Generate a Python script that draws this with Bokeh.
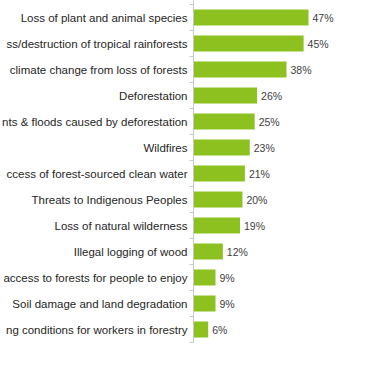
from bokeh.plotting import figure
from bokeh.models import Range1d, ColumnDataSource
from bokeh.core.properties import value
from bokeh.embed import file_html
from bokeh.resources import INLINE

categories = [
    "Loss of plant and animal species",
    "ss/destruction of tropical rainforests",
    "climate change from loss of forests",
    "Deforestation",
    "nts & floods caused by deforestation",
    "Wildfires",
    "ccess of forest-sourced clean water",
    "Threats to Indigenous Peoples",
    "Loss of natural wilderness",
    "Illegal logging of wood",
    "access to forests for people to enjoy",
    "Soil damage and land degradation",
    "ng conditions for workers in forestry",
]
values = [47, 45, 38, 26, 25, 23, 21, 20, 19, 12, 9, 9, 6]
value_labels = [f"{v}%" for v in values]

W, H = 350, 350
AXIS_PX = 193.0
PX_PER_UNIT = 2.447
ROW_PX = 26.0
FIRST_ROW_PX = 17.0

ypos = [-i for i in range(len(categories))]
src = ColumnDataSource(dict(y=ypos, v=values, cat=categories, lab=value_labels))

p = figure(width=W, height=H, output_backend="svg", toolbar_location=None,
           x_range=Range1d(-AXIS_PX / PX_PER_UNIT, (W - AXIS_PX) / PX_PER_UNIT),
           y_range=Range1d(-(H - FIRST_ROW_PX) / ROW_PX, FIRST_ROW_PX / ROW_PX),
           min_border=0)
p.axis.visible = False
p.grid.visible = False
p.outline_line_color = None
p.background_fill_color = "white"
p.border_fill_color = "white"

p.hbar(y="y", left=0, right="v", height=16 / ROW_PX, source=src,
       fill_color="#8cc11f", line_color=None)

# axis line and boundary ticks
n = len(categories)
bounds = [0.5 - k for k in range(n + 1)]
p.segment(x0=[0], x1=[0], y0=[bounds[0] + 1], y1=[bounds[-1]], line_color="#c8c8c8", line_width=1)
tick_len = 4 / PX_PER_UNIT
p.segment(x0=[-tick_len] * len(bounds), x1=[0] * len(bounds), y0=bounds, y1=bounds,
          line_color="#c8c8c8", line_width=1)

p.text(x=0, y="y", text="cat", source=src, x_offset=-6, text_align="right",
       text_baseline="middle", text_font=value("Liberation Sans"),
       text_font_size="11.5px", text_color="#262626")
p.text(x="v", y="y", text="lab", source=src, x_offset=4, text_align="left",
       text_baseline="middle", text_font=value("Liberation Sans"),
       text_font_size="10.5px", text_color="#404040")

open("out.html", "w").write(file_html(p, INLINE))
